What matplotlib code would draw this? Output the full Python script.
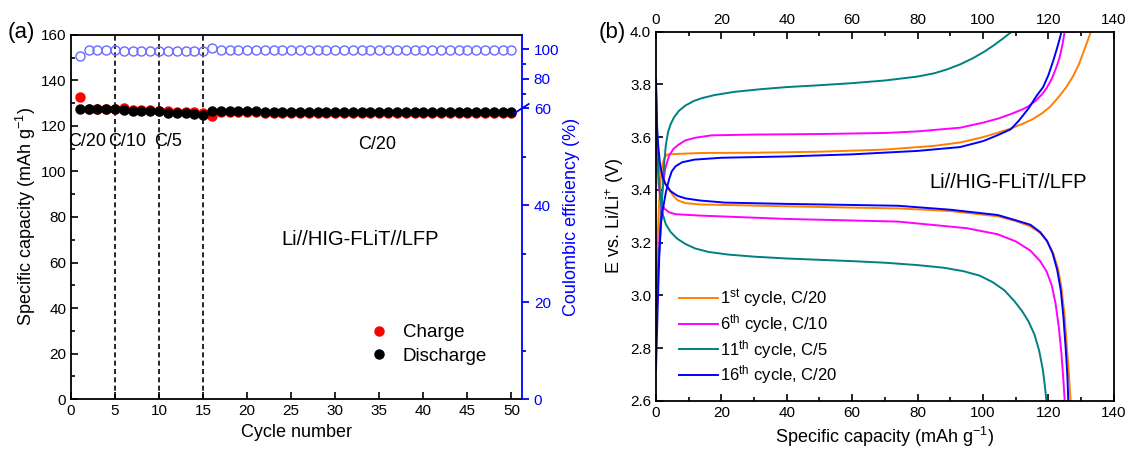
import numpy as np
import matplotlib
matplotlib.use('Agg')
import matplotlib.pyplot as plt
from matplotlib.lines import Line2D

plt.rcParams['font.family'] = ['Liberation Sans', 'DejaVu Sans']
plt.rcParams['mathtext.fontset'] = 'custom'
plt.rcParams['mathtext.rm'] = 'Liberation Sans'
plt.rcParams['mathtext.it'] = 'Liberation Sans:italic'
plt.rcParams['font.size'] = 11

# (a) cycling data
cycle = np.arange(1, 51)
charge = [132.6, 127.4, 127.4, 127.5, 127.4,
          128.0, 127.0, 126.9, 126.8, 126.6,
          126.4, 126.2, 126.1, 126.0, 125.6,
          124.5, 126.2, 126.0, 126.1, 126.0, 126.0, 125.9, 125.9, 125.8, 125.9, 125.8,
          125.8, 125.9, 125.8, 125.7, 125.8, 125.8, 125.7, 125.6, 125.7, 125.8, 125.7,
          125.7, 125.6, 125.7, 125.7, 125.6, 125.6, 125.7, 125.6, 125.6, 125.7, 125.6,
          125.6, 125.6]
discharge = [127.4, 127.4, 127.5, 127.5, 127.4,
             126.8, 126.7, 126.6, 126.5, 126.4,
             125.7, 125.6, 125.5, 125.2, 124.9,
             126.7, 126.5, 126.5, 126.4, 126.4, 126.4, 126.3, 126.3, 126.3, 126.3, 126.3,
             126.2, 126.2, 126.2, 126.2, 126.2, 126.2, 126.1, 126.1, 126.1, 126.1, 126.1,
             126.1, 126.1, 126.1, 126.0, 126.0, 126.0, 126.0, 126.0, 126.0, 126.0, 126.0,
             126.0, 126.1]
ce = [95.7, 99.6, 99.7, 99.7, 99.5,
      98.9, 98.9, 98.9, 99.0, 98.8,
      98.6, 98.6, 98.6, 98.7, 99.0,
      100.9, 99.8, 99.8, 99.7, 99.7, 99.7, 99.7, 99.7, 99.7, 99.7, 99.7,
      99.7, 99.7, 99.7, 99.7, 99.7, 99.7, 99.7, 99.7, 99.7, 99.7, 99.7,
      99.7, 99.7, 99.7, 99.7, 99.7, 99.7, 99.7, 99.7, 99.7, 99.7, 99.7,
      99.7, 99.7]
rate_lines = [5, 10, 15]

# (b) voltage profiles: (capacity, voltage)
c1_ch_q = [0, 0.5, 1, 1.5, 2, 2.7, 3.5, 13.4, 30, 50, 70, 85, 93, 100, 104.5, 108.5, 112, 115,
           118, 120.5, 123, 125.5, 127.5, 129.3, 130.8, 132, 133]
c1_ch_v = [3.05, 3.22, 3.36, 3.45, 3.5, 3.525, 3.535, 3.54, 3.541, 3.545, 3.553, 3.567, 3.58, 3.6,
           3.617, 3.633, 3.65, 3.667, 3.69, 3.715, 3.75, 3.79, 3.83, 3.875, 3.925, 3.965, 4.0]
c1_dc_q = [0, 0.3, 0.6, 1.2, 2.5, 4, 5.5, 6.7, 9, 13.4, 21, 40, 60, 74, 90, 104.5, 110, 114.5,
           117.5, 119.6, 121.5, 123, 124, 125, 125.7, 126.3, 126.8, 127.3]
c1_dc_v = [3.8, 3.6, 3.52, 3.47, 3.43, 3.4, 3.375, 3.36, 3.35, 3.345, 3.343, 3.338, 3.333, 3.33,
           3.32, 3.3, 3.282, 3.262, 3.237, 3.205, 3.16, 3.1, 3.03, 2.92, 2.8, 2.7, 2.6, 2.6]

c6_ch_q = [0, 1, 1.8, 2.8, 4, 5.3, 6.7, 9, 12, 17, 30, 50, 70, 80, 93, 100, 105, 109, 112, 114,
           116, 118, 119.5, 121, 122.3, 123.4, 124.3, 125, 128]
c6_ch_v = [2.95, 3.2, 3.38, 3.48, 3.53, 3.555, 3.57, 3.588, 3.598, 3.607, 3.61, 3.612, 3.616,
           3.622, 3.636, 3.655, 3.672, 3.69, 3.705, 3.718, 3.737, 3.762, 3.787, 3.82, 3.86, 3.9,
           3.95, 4.0, 4.0]
c6_dc_q = [0, 0.3, 0.8, 1.5, 2.5, 4, 6, 13, 40, 74, 95, 104.5, 110, 114.5, 117.5, 119.5, 121,
           122.2, 123.2, 124, 124.6, 125]
c6_dc_v = [3.75, 3.55, 3.42, 3.36, 3.33, 3.315, 3.308, 3.303, 3.29, 3.28, 3.255, 3.232, 3.205,
           3.17, 3.13, 3.09, 3.04, 2.97, 2.88, 2.78, 2.68, 2.6]

c11_ch_q = [0, 0.8, 1.4, 2, 2.5, 3, 3.7, 4.5, 5.5, 7, 9, 11.5, 14, 18, 24, 32, 40, 50, 60, 70,
            80, 85, 89, 93, 97, 100.5, 103.5, 106, 108.8, 121]
c11_ch_v = [3.0, 3.12, 3.25, 3.4, 3.5, 3.57, 3.62, 3.65, 3.675, 3.7, 3.72, 3.737, 3.748, 3.76,
            3.772, 3.782, 3.79, 3.797, 3.805, 3.815, 3.83, 3.842, 3.857, 3.876, 3.9, 3.925, 3.95,
            3.973, 4.0, 4.0]
c11_dc_q = [0, 0.3, 0.7, 1.2, 2, 3, 4.5, 6.5, 9, 12, 16, 22, 30, 40, 50, 60, 70, 80, 88, 94, 99,
            103, 106.5, 109.5, 112, 114, 115.8, 117.2, 118.3, 119, 119.4, 125]
c11_dc_v = [3.78, 3.62, 3.48, 3.38, 3.31, 3.27, 3.24, 3.215, 3.195, 3.178, 3.165, 3.155, 3.147,
            3.14, 3.135, 3.13, 3.124, 3.115, 3.105, 3.092, 3.075, 3.05, 3.02, 2.98, 2.94, 2.9,
            2.85, 2.79, 2.72, 2.65, 2.6, 2.6]

c16_ch_q = [0, 0.5, 1, 1.5, 2, 3, 4, 4.8, 6, 8, 11.8, 20, 40, 60, 80, 93, 100, 104, 108.5, 111,
            114, 116.3, 118.4, 120, 121.5, 122.6, 123.4, 124, 125]
c16_ch_v = [2.72, 2.95, 3.15, 3.27, 3.32, 3.39, 3.44, 3.47, 3.49, 3.505, 3.515, 3.522, 3.527,
            3.535, 3.548, 3.5625, 3.585, 3.605, 3.63, 3.663, 3.71, 3.755, 3.79, 3.835, 3.89,
            3.935, 3.97, 4.0, 4.0]
c16_dc_q = [0, 0.3, 0.6, 1.2, 2, 3, 4.5, 6.5, 9, 13.4, 21, 40, 60, 74, 90, 104.5, 110, 114.5,
            117.5, 119.6, 121.3, 122.7, 123.8, 124.6, 125.3, 125.8, 126.1]
c16_dc_v = [3.82, 3.65, 3.58, 3.5, 3.45, 3.42, 3.395, 3.378, 3.368, 3.36, 3.352, 3.347, 3.343,
            3.34, 3.325, 3.305, 3.285, 3.268, 3.24, 3.207, 3.16, 3.097, 3.02, 2.92, 2.8, 2.7, 2.6]

profiles = [
    (r'1$^{\rm st}$ cycle, C/20', '#FF8000', c1_ch_q, c1_ch_v, c1_dc_q, c1_dc_v),
    (r'6$^{\rm th}$ cycle, C/10', '#FF00FF', c6_ch_q, c6_ch_v, c6_dc_q, c6_dc_v),
    (r'11$^{\rm th}$ cycle, C/5', '#008080', c11_ch_q, c11_ch_v, c11_dc_q, c11_dc_v),
    (r'16$^{\rm th}$ cycle, C/20', '#0000FF', c16_ch_q, c16_ch_v, c16_dc_q, c16_dc_v),
]

fig = plt.figure(figsize=(11.33, 4.53), dpi=100)
ax1 = fig.add_axes([0.0627, 0.119, 0.398, 0.804])
ax3 = fig.add_axes([0.579, 0.115, 0.404, 0.815])

# ---- panel (a)
for x in rate_lines:
    ax1.plot([x, x], [0, 160], color='k', ls=(0, (3, 2)), lw=1.2)
ax1.plot(cycle, charge, 'o', color='red', ms=6.5, label='Charge')
ax1.plot(cycle, discharge, 'o', color='black', ms=6.5, label='Discharge')
ax1.set_xlim(0, 51.2)
ax1.set_ylim(0, 160)
ax1.set_xticks(np.arange(0, 51, 5))
ax1.set_yticks(np.arange(0, 161, 20))
ax1.set_yticks(np.arange(10, 160, 20), minor=True)
ax1.tick_params(direction='in', length=5, width=1.2, top=False, right=False)
ax1.tick_params(which='minor', direction='in', length=3, width=1.2)
for s in ax1.spines.values():
    s.set_linewidth(1.3)
ax1.spines['right'].set_visible(False)
ax1.set_xlabel('Cycle number', fontsize=13)
ax1.set_ylabel(r'Specific capacity (mAh g$^{-1}$)', fontsize=13, labelpad=2)
ax1.text(1.8, 113, 'C/20', ha='center', va='center', fontsize=13)
ax1.text(6.4, 113, 'C/10', ha='center', va='center', fontsize=13)
ax1.text(11.0, 113, 'C/5', ha='center', va='center', fontsize=13)
ax1.text(34.7, 112, 'C/20', ha='center', va='center', fontsize=13)
ax1.text(32.8, 70, 'Li//HIG-FLiT//LFP', ha='center', va='center', fontsize=14.5)
ax1.legend(loc='center left', bbox_to_anchor=(0.605, 0.15), frameon=False,
           handletextpad=0.25, fontsize=13.5, labelspacing=0.35, markerscale=1.0)

ax2 = ax1.twinx()
k = 0.305
def fwd(y):
    y = np.asarray(y, dtype=float)
    return np.where(y <= 60, y, 60 + (y - 60) * k)
def inv(z):
    z = np.asarray(z, dtype=float)
    return np.where(z <= 60, z, 60 + (z - 60) / k)
ax2.set_yscale('function', functions=(fwd, inv))
ax2.plot(cycle, ce, 'o', mfc='none', mec='#6B6BFF', ms=6.5, mew=1.0)
ax2.set_ylim(0, 109.7)
ax2.set_yticks([0, 20, 40, 60, 80, 100])
ax2.set_yticks([10, 30, 50, 70, 90], minor=True)
ax2.set_yticklabels(['0', '20', '40', '60', '80', '100'])
ax2.tick_params(axis='y', which='both', direction='out', colors='blue', width=1.3)
ax2.tick_params(axis='y', which='major', length=5)
ax2.tick_params(axis='y', which='minor', length=3)
for s in ['left', 'top', 'bottom']:
    ax2.spines[s].set_visible(False)
ax2.spines['right'].set_color('blue')
ax2.spines['right'].set_linewidth(1.3)
ax2.set_ylabel('Coulombic efficiency (%)', color='blue', fontsize=13, labelpad=3)
# axis break mark at 60
yb = 60 / float(fwd(109.7))
ax2.add_line(Line2D([0.985, 1.015], [yb - 0.012, yb + 0.012], transform=ax2.transAxes,
                    color='blue', lw=1.3, clip_on=False))

# ---- panel (b)
for lab, col, qc, vc, qd, vd in profiles:
    ax3.plot(qc, vc, color=col, lw=1.4, label=lab)
    ax3.plot(qd, vd, color=col, lw=1.4)
ax3.set_xlim(0, 140)
ax3.set_ylim(2.6, 4.0)
ax3.set_xticks(np.arange(0, 141, 20))
ax3.set_xticks(np.arange(10, 140, 20), minor=True)
ax3.set_yticks(np.arange(2.6, 4.01, 0.2))
ax3.set_yticklabels(['2.6', '2.8', '3.0', '3.2', '3.4', '3.6', '3.8', '4.0'])
ax3.tick_params(direction='in', length=5, width=1.2, top=True, labeltop=True, right=False)
ax3.tick_params(which='minor', direction='in', length=3, width=1.2, top=True, right=False)
for s in ax3.spines.values():
    s.set_linewidth(1.3)
ax3.set_xlabel(r'Specific capacity (mAh g$^{-1}$)', fontsize=13)
ax3.set_ylabel(r'E vs. Li/Li$^{+}$ (V)', fontsize=13, labelpad=3)
ax3.text(107.6, 3.43, 'Li//HIG-FLiT//LFP', ha='center', va='center', fontsize=14.5)
ax3.legend(loc='center left', bbox_to_anchor=(0.018, 0.174), frameon=False, fontsize=12,
           handlelength=2.3, handletextpad=0.15, labelspacing=0.15)

fig.text(0.0185, 0.929, '(a)', fontsize=16, ha='center', va='center')
fig.text(0.540, 0.929, '(b)', fontsize=16, ha='center', va='center')

fig.savefig('out.png', dpi=100)
